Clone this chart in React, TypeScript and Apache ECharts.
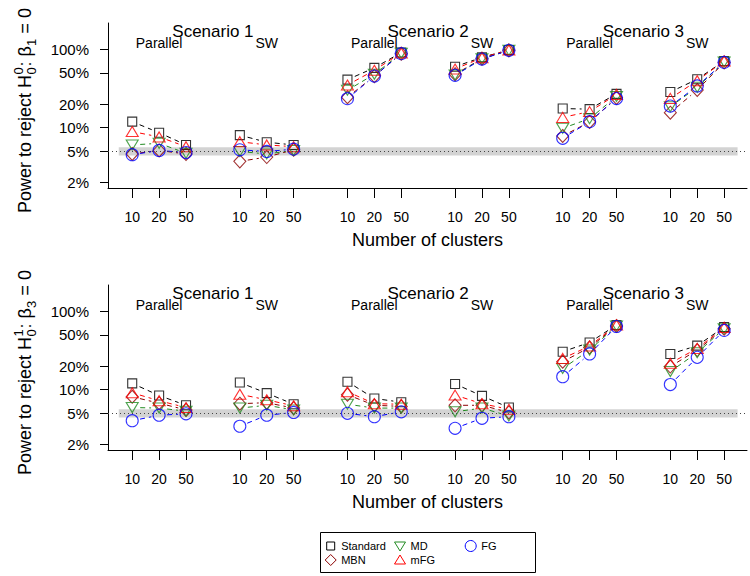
import React, { useEffect, useRef } from 'react';
import * as echarts from 'echarts';

// ---------- data ----------
const clusterLabels = ['10', '20', '50'];
const scenarioTitles = ['Scenario 1', 'Scenario 2', 'Scenario 3'];
const designLabels = ['Parallel', 'SW'];
// x positions of each point: scenario s, design d, cluster k -> 1 + 8s + 4d + k
const xPositions = [1, 2, 3, 5, 6, 7, 9, 10, 11, 13, 14, 15, 17, 18, 19, 21, 22, 23];
const yTickValues = [2, 5, 10, 20, 50, 100];
const methodNames = ['Standard', 'MBN', 'MD', 'mFG', 'FG'];

// Power (%) for H0^0: beta1 = 0 (top panel)
const standardTop = [11.9, 8.6, 6.0, 8.0, 6.5, 6.0, 41, 58, 91, 60, 79, 98, 17.5, 17.2, 27, 28.5, 41.5, 71];
const mbnTop = [4.6, 5.1, 4.6, 3.7, 4.2, 5.2, 24.4, 45.5, 88, 48, 76, 97, 7.8, 11.8, 24, 15.5, 30.2, 68];
const mdTop = [6.0, 6.3, 4.7, 4.95, 4.6, 5.1, 30, 48, 89, 47, 76, 97, 9.8, 13, 25, 18.5, 32.7, 69];
const mfgTop = [8.9, 7.6, 5.7, 6.6, 6.0, 5.7, 35, 54, 90, 56, 78, 98, 13.5, 16, 26.5, 23.6, 39.7, 71];
const fgTop = [4.5, 5.1, 4.8, 5.2, 4.95, 5.3, 23.4, 45.5, 88, 46.5, 75, 97, 7.3, 11.9, 23.5, 18.8, 34, 68];

// Power (%) for H0^1: beta3 = 0 (bottom panel)
const standardBottom = [12.0, 8.4, 6.3, 12.3, 9.0, 6.5, 12.6, 7.7, 6.9, 11.8, 8.3, 5.9, 30.5, 40, 67, 28.5, 36.4, 63];
const mbnBottom = [8.1, 6.7, 5.5, 6.6, 6.8, 5.8, 8.6, 6.3, 6.1, 6.3, 6.3, 5.1, 22.7, 34.6, 65, 19.7, 32, 60];
const mdBottom = [5.9, 5.8, 5.3, 5.8, 6.3, 5.5, 6.5, 5.8, 5.8, 5.2, 5.8, 4.6, 18.6, 32, 65, 17, 29.6, 60];
const mfgBottom = [9.1, 7.2, 5.9, 8.7, 7.4, 6.2, 9.4, 6.6, 6.5, 8.5, 6.6, 5.6, 25, 36, 67, 21.7, 33.6, 62];
const fgBottom = [4.0, 4.7, 4.9, 3.4, 4.7, 5.1, 4.97, 4.5, 5.2, 3.2, 4.3, 4.5, 14.6, 28.5, 64, 11.6, 25.8, 57];

const nominalLevel = 5;
const bandLow = 4.4;
const bandHigh = 5.6;

// ---------- styles ----------
const FONT = '"Liberation Sans", Arial, Helvetica, sans-serif';
const methodStyles = [
  { color: '#000000', symbol: 'rect', size: 9, rotate: 0 },
  { color: '#8B0000', symbol: 'diamond', size: [12, 13], rotate: 0 },
  { color: '#228B22', symbol: 'triangle', size: [12, 10], rotate: 180 },
  { color: '#FF0000', symbol: 'triangle', size: [12, 10], rotate: 0 },
  { color: '#0000FF', symbol: 'circle', size: 12, rotate: 0 },
];

const panelData = [
  [standardTop, mbnTop, mdTop, mfgTop, fgTop],
  [standardBottom, mbnBottom, mdBottom, mfgBottom, fgBottom],
];

const PANEL_OFFSET = 262;
const GRID_LEFT = 108;
const GRID_TOP = 23;
const GRID_W = 639;
const GRID_H = 165;
const X_MIN = 0.1;
const X_MAX = 23.85;
const Y_MIN = Math.log10(1.69);
const Y_MAX = Math.log10(217);
const UNIT = GRID_W / (X_MAX - X_MIN);
const xPix = (v: number) => GRID_LEFT + (v - X_MIN) * UNIT;

function buildOption() {
  const grid: any[] = [];
  const xAxis: any[] = [];
  const yAxis: any[] = [];
  const series: any[] = [];
  const graphic: any[] = [];

  for (let p = 0; p < 2; p++) {
    grid.push({ left: GRID_LEFT, top: GRID_TOP + p * PANEL_OFFSET, width: GRID_W, height: GRID_H, outerBoundsMode: 'none' });
    xAxis.push({
      type: 'value', gridIndex: p, min: X_MIN, max: X_MAX,
      axisLine: { show: true, onZero: false, lineStyle: { color: '#000', width: 1 } },
      axisTick: { show: true, length: 10, customValues: xPositions, lineStyle: { color: '#000', width: 1 } },
      axisLabel: {
        show: true, customValues: xPositions, margin: 22, fontSize: 14, color: '#000', fontFamily: FONT,
        formatter: (v: number) => {
          const idx = xPositions.findIndex((q) => Math.abs(q - v) < 1e-6);
          return idx >= 0 ? clusterLabels[idx % 3] : '';
        },
      },
      splitLine: { show: false },
      name: 'Number of clusters', nameLocation: 'middle', nameGap: 43,
      nameTextStyle: { fontSize: 18, color: '#000', fontFamily: FONT },
    });
    const yTickLogs = yTickValues.map((v) => Math.log10(v));
    yAxis.push({
      type: 'value', gridIndex: p, min: Y_MIN, max: Y_MAX,
      axisLine: { show: true, onZero: false, lineStyle: { color: '#000', width: 1 } },
      axisTick: { show: true, length: 8, customValues: yTickLogs, lineStyle: { color: '#000', width: 1 } },
      axisLabel: {
        show: true, customValues: yTickLogs, margin: 19, fontSize: 15, color: '#000', fontFamily: FONT,
        formatter: (v: number) => Math.round(Math.pow(10, v)) + '%',
      },
      splitLine: { show: false },
    });

    // reference band + nominal line
    series.push({
      type: 'scatter', xAxisIndex: p, yAxisIndex: p, z: 0, silent: true,
      data: [[12, Math.log10(nominalLevel)]], symbolSize: 0,
      markArea: {
        silent: true,
        itemStyle: { color: '#d3d3d3' },
        data: [[{ xAxis: 0.5, yAxis: Math.log10(bandLow) }, { xAxis: 23.5, yAxis: Math.log10(bandHigh) }]],
      },
      markLine: {
        silent: true, symbol: 'none', label: { show: false },
        lineStyle: { color: '#444', width: 1, type: [1, 3] },
        data: [{ yAxis: Math.log10(nominalLevel) }],
      },
    });

    const methods = panelData[p];
    methods.forEach((vals, m) => {
      const st = methodStyles[m];
      // dashed connecting segments with gaps (R type = "b")
      const segs: number[][] = [];
      for (let g = 0; g < 6; g++) {
        for (let k = 0; k < 2; k++) {
          const i = g * 3 + k;
          segs.push([xPositions[i], Math.log10(vals[i]), xPositions[i + 1], Math.log10(vals[i + 1])]);
        }
      }
      series.push({
        type: 'custom', name: methodNames[m], xAxisIndex: p, yAxisIndex: p, z: 2, silent: true,
        encode: { x: [0, 2], y: [1, 3] },
        data: segs,
        renderItem: (params: any, api: any) => {
          const a = api.coord([api.value(0), api.value(1)]);
          const b = api.coord([api.value(2), api.value(3)]);
          const dx = b[0] - a[0];
          const dy = b[1] - a[1];
          const len = Math.sqrt(dx * dx + dy * dy);
          const gap = 8;
          if (len <= 2 * gap) return null;
          const ux = dx / len;
          const uy = dy / len;
          return {
            type: 'line',
            shape: { x1: a[0] + ux * gap, y1: a[1] + uy * gap, x2: b[0] - ux * gap, y2: b[1] - uy * gap },
            style: { stroke: st.color, lineWidth: 1, lineDash: [5, 4], fill: null },
          };
        },
      });
      series.push({
        type: 'scatter', name: methodNames[m], xAxisIndex: p, yAxisIndex: p, z: 3, silent: true,
        symbol: st.symbol, symbolSize: st.size, symbolRotate: st.rotate,
        itemStyle: { color: 'rgba(0,0,0,0)', borderColor: st.color, borderWidth: 1.1 },
        data: vals.map((v, i) => [xPositions[i], Math.log10(v)]),
      });
    });

    // scenario titles and design labels
    const off = p * PANEL_OFFSET;
    scenarioTitles.forEach((t, s) => {
      graphic.push({
        type: 'text', x: xPix(4 + 8 * s), y: 31 + off,
        style: { text: t, font: `17px ${FONT}`, fill: '#000', align: 'center', verticalAlign: 'middle' },
      });
      designLabels.forEach((dl, d) => {
        graphic.push({
          type: 'text', x: xPix(2 + 8 * s + 4 * d), y: 43 + off,
          style: { text: dl, font: `14px ${FONT}`, fill: '#000', align: 'center', verticalAlign: 'middle' },
        });
      });
    });

    // y axis title with stacked sub/superscripts
    const sup = p === 0 ? '0' : '1';
    const betaSub = p === 0 ? '1' : '3';
    const mainF = `18px ${FONT}`;
    const smallF = `13px ${FONT}`;
    graphic.push({
      type: 'group', x: 25, y: 213 + off, rotation: Math.PI / 2,
      children: [
        { type: 'text', x: 0, y: 0, style: { text: 'Power to reject H', font: mainF, fill: '#000', align: 'left', verticalAlign: 'middle' } },
        { type: 'text', x: 138.5, y: -7, style: { text: sup, font: smallF, fill: '#000', align: 'left', verticalAlign: 'middle' } },
        { type: 'text', x: 138.5, y: 6, style: { text: '0', font: smallF, fill: '#000', align: 'left', verticalAlign: 'middle' } },
        { type: 'text', x: 146.5, y: 0, style: { text: ': \u03b2', font: mainF, fill: '#000', align: 'left', verticalAlign: 'middle' } },
        { type: 'text', x: 167, y: 6, style: { text: betaSub, font: smallF, fill: '#000', align: 'left', verticalAlign: 'middle' } },
        { type: 'text', x: 174.5, y: 0, style: { text: ' = 0', font: mainF, fill: '#000', align: 'left', verticalAlign: 'middle' } },
      ],
    });
  }

  // legend
  const lx = [330.7, 400, 470.7];
  const ly = [546, 560];
  const legendPos = [[0, 0], [0, 1], [1, 0], [1, 1], [2, 0]];
  graphic.push({
    type: 'rect', shape: { x: 320.5, y: 532.5, width: 215, height: 40 },
    style: { fill: 'none', stroke: '#000', lineWidth: 1 },
  });
  methodNames.forEach((nm, m) => {
    const [c, r] = legendPos[m];
    const cx = lx[c];
    const cy = ly[r];
    const col = methodStyles[m].color;
    const stroke = { fill: 'none', stroke: col, lineWidth: 1 };
    if (m === 0) graphic.push({ type: 'rect', shape: { x: cx - 4, y: cy - 4, width: 8, height: 8 }, style: stroke });
    if (m === 1) graphic.push({ type: 'polygon', shape: { points: [[cx, cy - 5.5], [cx + 5.5, cy], [cx, cy + 5.5], [cx - 5.5, cy]] }, style: stroke });
    if (m === 2) graphic.push({ type: 'polygon', shape: { points: [[cx - 5.5, cy - 4], [cx + 5.5, cy - 4], [cx, cy + 5]] }, style: stroke });
    if (m === 3) graphic.push({ type: 'polygon', shape: { points: [[cx - 5.5, cy + 4], [cx + 5.5, cy + 4], [cx, cy - 5]] }, style: stroke });
    if (m === 4) graphic.push({ type: 'circle', shape: { cx, cy, r: 5.5 }, style: stroke });
    graphic.push({
      type: 'text', x: cx + 10.5, y: cy,
      style: { text: nm, font: `11px ${FONT}`, fill: '#000', align: 'left', verticalAlign: 'middle' },
    });
  });

  return {
    animation: false,
    backgroundColor: '#ffffff',
    textStyle: { fontFamily: FONT },
    grid, xAxis, yAxis, series, graphic,
  };
}

export default function App() {
  const ref = useRef<HTMLDivElement>(null);
  useEffect(() => {
    if (!ref.current) return;
    const chart = echarts.init(ref.current, undefined, { renderer: 'svg' });
    chart.setOption(buildOption() as any);
    return () => chart.dispose();
  }, []);
  return (
    <div
      ref={ref}
      style={{ position: 'fixed', left: 0, top: 0, width: 750, height: 576, background: '#fff' }}
    />
  );
}
